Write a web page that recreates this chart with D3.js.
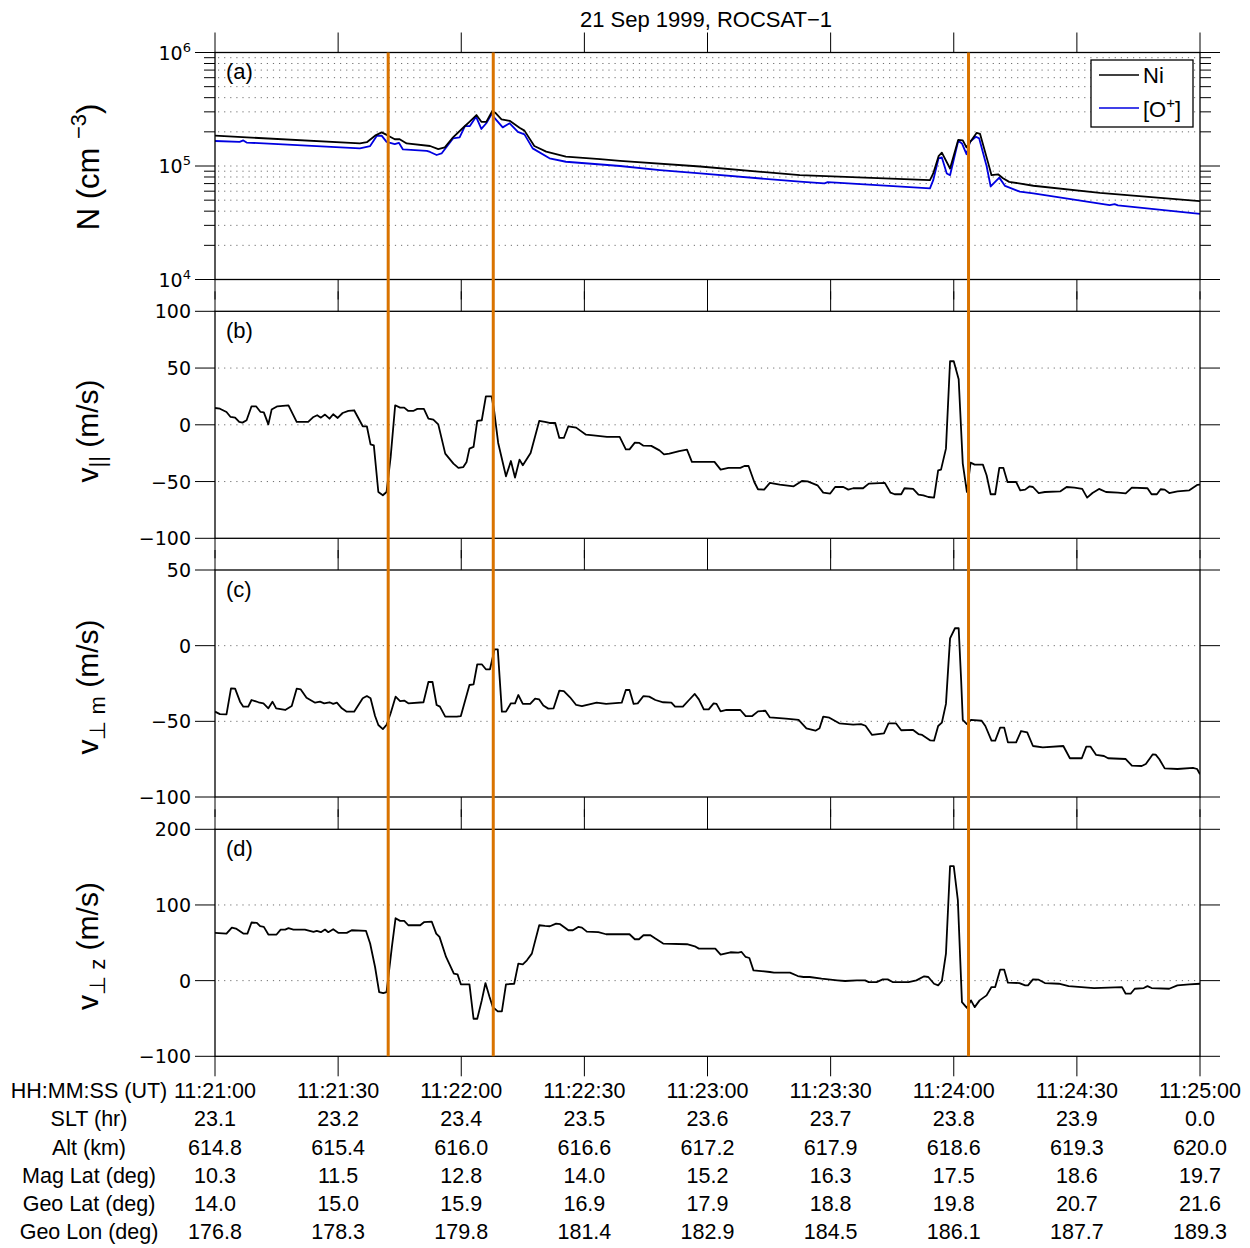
<!DOCTYPE html>
<html><head><meta charset="utf-8">
<script src="https://cdn.jsdelivr.net/npm/d3@7"></script>
<style>
body{margin:0;background:#fff}
svg{display:block}
text{font-family:"Liberation Sans",Arial,Helvetica,sans-serif;fill:#000}
.tick{font-family:"DejaVu Sans",sans-serif;font-size:19px}
</style>
</head><body><svg id="c" width="1250" height="1248"></svg>
<script>
// ---------------- DATA (time in seconds after 11:21:00 UT) ----------------
const title = "21 Sep 1999, ROCSAT\u22121";
const timeLabels = ["11:21:00","11:21:30","11:22:00","11:22:30","11:23:00","11:23:30","11:24:00","11:24:30","11:25:00"];
const tickSeconds = [0,30,60,90,120,150,180,210,240];
const rowLabels = ["HH:MM:SS (UT)","SLT (hr)","Alt (km)","Mag Lat (deg)","Geo Lat (deg)","Geo Lon (deg)"];
const sltLabels = ["23.1","23.2","23.4","23.5","23.6","23.7","23.8","23.9","0.0"];
const altLabels = ["614.8","615.4","616.0","616.6","617.2","617.9","618.6","619.3","620.0"];
const magLatLabels = ["10.3","11.5","12.8","14.0","15.2","16.3","17.5","18.6","19.7"];
const geoLatLabels = ["14.0","15.0","15.9","16.9","17.9","18.8","19.8","20.7","21.6"];
const geoLonLabels = ["176.8","178.3","179.8","181.4","182.9","184.5","186.1","187.7","189.3"];
const eventTimes = [42.2, 67.8, 183.6];

const tNi = [0,35.3,37,39,40.6,42.2,43.8,45,46.7,52.4,54.4,56,58,60.9,62,63.7,64.9,66.1,67.6,68.5,69.8,71.8,74.2,75.4,77.8,80.7,85.5,93.8,98.7,118.2,142.5,174.2,175,176.3,177.1,179.1,181.1,182.2,183.1,185.6,186.4,188.4,189.2,190.8,192,193.5,199.4,215.6,240];
const nNi = [1.85e5,1.58e5,1.62e5,1.85e5,1.98e5,1.85e5,1.72e5,1.72e5,1.58e5,1.5e5,1.41e5,1.46e5,1.79e5,2.25e5,2.45e5,2.81e5,2.45e5,2.45e5,3.07e5,2.9e5,2.58e5,2.5e5,2.17e5,2.05e5,1.5e5,1.34e5,1.21e5,1.15e5,1.11e5,9.9e4,8.3e4,7.5e4,8.6e4,1.22e5,1.31e5,9.5e4,1.70e5,1.68e5,1.46e5,1.96e5,1.92e5,1.06e5,8.3e4,8.45e4,7.8e4,7.25e4,6.7e4,5.8e4,4.9e4];

const tO = [0,6,6.9,7.7,35.3,37.8,39.4,40.6,41.8,43.8,44.8,45.8,51.6,52.4,54,55.2,58,59.6,60.9,62.1,63.6,64.9,66.1,67.4,68.2,70.1,71.8,73.8,75.4,77.4,81.5,85.5,98.7,108.4,118.2,142.5,148.5,149.3,174.2,175,176.3,177.1,178.3,179.1,181.1,182,183.1,184,185.4,186.2,188,189,191.1,192.5,196.1,199.4,218,219.2,220,240];
const nO = [1.66e5,1.63e5,1.68e5,1.61e5,1.43e5,1.50e5,1.84e5,1.85e5,1.63e5,1.56e5,1.6e5,1.40e5,1.36e5,1.33e5,1.25e5,1.29e5,1.75e5,1.79e5,2.25e5,2.25e5,2.72e5,2.12e5,2.38e5,2.87e5,2.63e5,2.19e5,2.38e5,2.0e5,1.9e5,1.43e5,1.17e5,1.09e5,1.0e5,9.2e4,8.6e4,7.27e4,7.03e4,7.2e4,6.35e4,7.5e4,1.17e5,1.19e5,8.6e4,8.3e4,1.67e5,1.58e5,1.27e5,1.64e5,1.81e5,1.75e5,1.0e5,6.6e4,7.9e4,6.67e4,5.94e4,5.74e4,4.53e4,4.62e4,4.5e4,3.78e4];

const vPar = [[0,14.8],[1.2,14.2],[2.8,11.3],[3.8,6.9],[4.9,6.3],[5.9,2.5],[6.7,1.9],[7.7,4.0],[8.9,16.3],[10,16.3],[11.1,11.3],[11.9,11.0],[13,0.4],[13.8,13.4],[15.2,16.3],[17.9,17.2],[19.9,2.5],[22.7,2.5],[24,6.9],[24.9,8.4],[25.8,6.3],[26.8,9.0],[27.9,5.4],[28.8,9.3],[29.9,6.0],[31.1,10.4],[32.5,12.2],[33.9,12.8],[36,-1.3],[37,-1.3],[37.9,-17.2],[38.7,-18.1],[39.8,-59.2],[40.9,-62.1],[41.8,-59.2],[42.8,-28.3],[43.9,17.2],[45.1,15.1],[46.1,15.1],[47.1,12.2],[48.3,12.2],[49.3,14.0],[50.9,14.0],[52,5.4],[53.2,4.5],[54.4,0.4],[56.1,-25.4],[58.1,-34.2],[59.3,-38.0],[60.5,-37.2],[61.3,-32.7],[62,-21.0],[63,-19.5],[63.9,3.4],[65,4.0],[66,25.1],[67.4,25.1],[68,12.8],[69,-16.0],[70.9,-45.4],[72.1,-31.9],[73.1,-46.5],[74.2,-30.7],[75,-35.7],[76.9,-24.8],[79,3.4],[80.4,2.5],[81.5,1.6],[82.9,1.6],[83.9,-11.6],[85,-11.6],[86.1,-1.3],[88,-2.5],[90.4,-8.7],[92.2,-9.3],[95.5,-10.7],[98.6,-10.7],[100.1,-21.6],[101,-21.6],[102.3,-15.7],[103.4,-16.0],[104.4,-18.4],[106.3,-18.6],[108.3,-22.5],[109.4,-26.0],[110.7,-25.4],[113.1,-23.1],[115,-21.9],[116.2,-32.7],[121.7,-32.7],[123.2,-39.5],[125.1,-38.0],[128,-38.0],[129,-36.3],[130,-36.3],[131.4,-50.4],[132.3,-56.8],[133.8,-57.1],[135.2,-51.2],[137.6,-52.7],[141,-54.2],[143,-49.5],[144.4,-49.8],[146.8,-53.3],[148.2,-59.8],[149.9,-60.6],[151.1,-54.8],[153.1,-54.8],[154.3,-57.1],[155.5,-55.9],[157.9,-55.9],[159.3,-51.8],[163.2,-51.2],[164.6,-59.8],[165.6,-61.2],[167.2,-61.2],[168,-55.9],[170.1,-56.5],[171.4,-61.5],[172.6,-62.1],[173.8,-63.6],[175.2,-64.2],[176.2,-40.1],[176.9,-39.5],[178.1,-21.0],[179.1,56.0],[180,56.0],[181.2,40.1],[182.2,-34.2],[183.2,-59.2],[184.1,-33.3],[185.1,-35.1],[187.1,-35.1],[188,-44.5],[189,-61.2],[190.1,-61.2],[191.1,-38.0],[192.1,-38.0],[193.1,-50.4],[195.2,-50.4],[196.2,-57.7],[197.4,-57.1],[198.5,-54.2],[199.3,-54.8],[200.7,-60.1],[202.2,-59.2],[206,-58.6],[207.5,-54.8],[209.4,-55.4],[211.3,-56.5],[212.5,-64.2],[213.8,-60.1],[215.4,-56.5],[217.1,-59.2],[220,-59.8],[221.9,-60.4],[223.4,-55.4],[227.2,-55.9],[228.2,-61.2],[229.5,-61.2],[230.4,-56.8],[231.4,-57.1],[232.5,-60.1],[234.5,-58.6],[237.4,-57.7],[239.3,-53.0],[240,-52.7]];

const vPerpM = [[0,-43.6],[1.2,-45.2],[2.8,-45.4],[3.9,-28.2],[4.9,-28.4],[6.1,-37.0],[6.9,-40.3],[8.1,-40.3],[8.9,-35.9],[10.6,-37.4],[11.8,-38.1],[13,-41.4],[14,-37.0],[14.9,-41.4],[17.1,-42.5],[18.7,-39.9],[19.9,-28.4],[20.9,-28.9],[22.3,-34.4],[24.4,-37.7],[25.6,-37.0],[26.6,-38.1],[27.9,-37.4],[28.8,-38.5],[29.7,-37.7],[30.9,-41.4],[32.1,-43.6],[33.9,-43.6],[36,-34.8],[37,-33.3],[37.9,-34.8],[39,-46.5],[39.8,-52.4],[40.9,-55.1],[41.8,-52.4],[42.8,-44.7],[44,-33.7],[45.1,-36.6],[46.1,-36.3],[47.1,-38.1],[50.8,-37.4],[52,-24.0],[53,-24.0],[54,-39.2],[54.8,-40.3],[56.1,-46.9],[58.9,-46.9],[59.9,-46.5],[62,-26.0],[63,-25.6],[63.9,-12.3],[65,-12.3],[66,-15.6],[67,-15.6],[67.7,-7.3],[68.1,-2.4],[68.9,-2.4],[69.9,-43.6],[70.9,-43.6],[72.1,-38.1],[73.1,-38.1],[73.9,-32.6],[75,-38.5],[76.8,-38.5],[78,-35.0],[79,-35.5],[80,-39.6],[81.2,-41.6],[82.5,-41.4],[83.9,-29.7],[85,-30.0],[86.5,-34.1],[88,-39.2],[89.4,-39.9],[93,-37.7],[95.3,-38.5],[99.1,-37.7],[100.1,-29.3],[101,-29.3],[102,-38.5],[103,-38.1],[104.4,-33.3],[105.8,-33.7],[107.3,-35.9],[109.2,-37.4],[111.2,-37.7],[112.1,-40.3],[114,-40.3],[115.5,-35.9],[116.9,-31.9],[117.9,-35.5],[119.1,-42.1],[120.3,-42.1],[121.5,-38.1],[122.2,-38.5],[123.2,-43.4],[124.6,-42.5],[128,-42.5],[129.3,-46.5],[130.9,-46.5],[132.3,-43.4],[134.1,-43.0],[135.2,-47.4],[139.1,-48.2],[141,-48.7],[142.2,-49.1],[144.1,-54.6],[146.3,-56.2],[147.3,-54.6],[148.2,-46.9],[149.7,-47.6],[152.1,-51.3],[155.5,-52.2],[157.4,-51.8],[158.5,-52.9],[160.1,-59.0],[163,-57.9],[164.1,-51.3],[165.9,-51.3],[167.2,-55.9],[170.1,-55.7],[171.4,-58.4],[172.3,-59.0],[174.3,-62.6],[175.2,-62.8],[176.2,-53.1],[177.1,-50.9],[178.1,-38.5],[179.1,4.8],[180.3,11.5],[181.2,11.5],[181.8,-22.7],[182.2,-49.1],[183.2,-51.8],[184.2,-49.1],[186.8,-49.6],[187.7,-53.1],[189.2,-62.8],[190.1,-62.8],[191.3,-54.2],[192.3,-54.2],[193.2,-63.9],[195.2,-63.9],[196.4,-56.4],[197.9,-57.3],[199.3,-66.3],[201.7,-67.2],[206.7,-66.3],[208.3,-74.4],[211.2,-74.4],[212.3,-66.7],[213.3,-66.7],[214.7,-72.2],[216.6,-72.9],[217.6,-74.4],[221.9,-74.9],[223.4,-79.3],[225.8,-79.5],[226.8,-78.2],[228.5,-71.8],[229.2,-72.0],[230.1,-75.1],[231.4,-81.1],[234.5,-81.5],[238.3,-80.8],[239.3,-81.5],[240,-85.0]];

const vPerpZ = [[0,63.1],[2.8,62.2],[4.1,70.1],[5.1,68.8],[6.9,62.2],[7.9,62.2],[8.9,76.8],[10.2,76.3],[11,71.9],[11.9,71.0],[13,60.9],[15,60.9],[16,67.5],[17.1,67.5],[17.9,69.3],[19.1,67.5],[21.9,67.5],[24,64.4],[24.8,65.7],[25.8,64.0],[26.8,67.5],[27.6,64.0],[28.8,67.9],[30.1,63.1],[32.1,63.1],[33.3,66.6],[36.8,65.7],[37.8,49.0],[39,18.0],[40,-15.1],[41,-16.4],[41.8,-15.1],[43.1,44.5],[44,82.5],[45.1,79.0],[46.1,79.0],[47.1,73.2],[50,73.2],[50.9,77.2],[52.8,78.1],[53.9,62.2],[54.7,57.8],[56.3,31.3],[58.2,9.2],[59.1,8.3],[59.9,-4.9],[62,-4.9],[63,-50.4],[63.9,-50.4],[65,-26.1],[65.9,-3.2],[66.9,-21.7],[67.7,-35.0],[68.9,-40.7],[69.9,-40.7],[70.9,-4.9],[72.9,-4.1],[73.9,22.4],[75,21.6],[76,26.9],[77.2,35.7],[79,73.2],[80.4,72.3],[81.6,71.9],[83.1,75.4],[84.1,74.6],[86.1,66.6],[87.2,66.6],[88.5,71.0],[89.4,70.1],[90.6,64.8],[93.4,64.0],[95.3,61.3],[101,61.3],[102.3,54.7],[103.3,54.7],[104.4,60.0],[106.1,60.0],[107.3,55.6],[109.2,49.0],[115,48.1],[116.9,45.4],[117.9,42.3],[121.9,42.3],[123.2,34.4],[125.6,37.5],[127.5,37.0],[128.3,37.9],[129.3,31.3],[130.2,29.9],[131.2,13.6],[135.2,11.4],[136.2,10.5],[140.1,10.5],[142,6.1],[143.4,4.8],[144.9,4.8],[147.8,2.6],[151.6,0.4],[153.5,-0.5],[156.4,0.4],[158.4,0.4],[159.3,-1.9],[161.2,-1.9],[162.7,1.7],[163.9,1.7],[165.1,-1.9],[169,-1.9],[170.9,0.4],[172.8,5.7],[173.8,4.8],[175.2,-4.1],[176.2,-6.3],[177.1,-0.5],[178.1,35.7],[179.1,151.4],[180,151.4],[181,106.4],[182,-28.4],[183.2,-35.9],[184.2,-26.1],[185.1,-35.0],[186.3,-26.1],[188,-19.5],[189.2,-8.5],[190.1,-8.5],[191.3,14.5],[192.3,14.5],[193.2,-2.7],[196,-3.2],[197.4,-6.3],[198.1,-6.3],[199.3,1.7],[200.7,1.2],[202.2,-3.2],[205.6,-4.1],[208,-7.2],[214.2,-9.8],[221,-8.5],[221.9,-17.3],[223.1,-17.3],[224.1,-10.7],[226.3,-9.8],[227.2,-7.2],[228.2,-9.8],[232.5,-10.7],[234.5,-6.3],[237.4,-4.9],[240,-4.1]];

const bTicks = [-100,-50,0,50,100];
const cTicks = [-100,-50,0,50];
const dTicks = [-100,0,100,200];

// ---------------- DRAWING ----------------
const svg = d3.select("#c");
const L = 215, R = 1200;
const x = d3.scaleLinear().domain([0,240]).range([L,R]);
const ORANGE = "rgb(217,115,0)";
const MAJ = 20, MIN = 11;

const panels = [
  {id:"a", top:52.5, bottom:279.5, y:d3.scaleLog().domain([1e4,1e6])},
  {id:"b", top:311.3, bottom:538.3, y:d3.scaleLinear().domain([-100,100]), ticks:bTicks, series:[vPar]},
  {id:"c", top:570, bottom:797, y:d3.scaleLinear().domain([-100,50]), ticks:cTicks, series:[vPerpM]},
  {id:"d", top:829.3, bottom:1056.3, y:d3.scaleLinear().domain([-100,200]), ticks:dTicks, series:[vPerpZ]}
];
panels.forEach(p => p.y.range([p.bottom, p.top]));

const defs = svg.append("defs");

panels.forEach(p => {
  const g = svg.append("g");
  defs.append("clipPath").attr("id","clip"+p.id).append("rect")
    .attr("x",L).attr("y",p.top).attr("width",R-L).attr("height",p.bottom-p.top);

  let gridVals, majors, minors = [];
  if (p.id === "a") {
    majors = [1e4,1e5,1e6];
    [1e4,1e5].forEach(d => { for (let k=2;k<=9;k++) minors.push(k*d); });
    gridVals = minors.concat([1e5]);
  } else {
    majors = p.ticks;
    gridVals = p.ticks.filter(v => v !== p.y.domain()[0] && v !== p.y.domain()[1]);
  }
  g.selectAll(".grid").data(gridVals).join("line")
    .attr("x1",L+3).attr("x2",R-3)
    .attr("y1",d=>p.y(d)).attr("y2",d=>p.y(d))
    .attr("stroke","#6f6f6f").attr("stroke-width",1).attr("stroke-dasharray","1.2,4.9");

  const tickG = g.append("g").attr("stroke","#000").attr("stroke-width",1);
  majors.forEach(v => {
    tickG.append("line").attr("x1",L-MAJ).attr("x2",L).attr("y1",p.y(v)).attr("y2",p.y(v));
    tickG.append("line").attr("x1",R).attr("x2",R+MAJ).attr("y1",p.y(v)).attr("y2",p.y(v));
  });
  minors.forEach(v => {
    tickG.append("line").attr("x1",L-MIN).attr("x2",L).attr("y1",p.y(v)).attr("y2",p.y(v));
    tickG.append("line").attr("x1",R).attr("x2",R+MIN).attr("y1",p.y(v)).attr("y2",p.y(v));
  });
  tickSeconds.forEach(s => {
    tickG.append("line").attr("x1",x(s)).attr("x2",x(s)).attr("y1",p.top-MAJ).attr("y2",p.top);
    tickG.append("line").attr("x1",x(s)).attr("x2",x(s)).attr("y1",p.bottom).attr("y2",p.bottom+MAJ);
  });

  // y tick labels
  if (p.id === "a") {
    majors.forEach(v => {
      const t = g.append("text").attr("class","tick").attr("text-anchor","end")
        .attr("x",191).attr("y",p.y(v)+7);
      t.append("tspan").text("10");
      t.append("tspan").attr("dy",-8).attr("font-size",13).text(Math.round(Math.log10(v)));
    });
  } else {
    majors.forEach(v => {
      g.append("text").attr("class","tick").attr("text-anchor","end")
        .attr("x",191).attr("y",p.y(v)+7).text(v < 0 ? "\u2212" + Math.abs(v) : String(v));
    });
  }

  // data
  const dg = g.append("g").attr("clip-path","url(#clip"+p.id+")");
  const line = d3.line().x(d=>x(d[0])).y(d=>p.y(d[1]));
  if (p.id === "a") {
    dg.append("path").datum(tO.map((t,i)=>[t,nO[i]])).attr("d",line)
      .attr("fill","none").attr("stroke","#0000e0").attr("stroke-width",1.8).attr("stroke-linejoin","round");
    dg.append("path").datum(tNi.map((t,i)=>[t,nNi[i]])).attr("d",line)
      .attr("fill","none").attr("stroke","#000").attr("stroke-width",1.8).attr("stroke-linejoin","round");
  } else {
    p.series.forEach(s => dg.append("path").datum(s).attr("d",line)
      .attr("fill","none").attr("stroke","#000").attr("stroke-width",1.8).attr("stroke-linejoin","round"));
  }

  g.append("rect").attr("x",L).attr("y",p.top).attr("width",R-L).attr("height",p.bottom-p.top)
    .attr("fill","none").attr("stroke","#000").attr("stroke-width",1.3);

  g.append("text").attr("x",226).attr("y",p.top+26.5).attr("font-size",22).text("("+p.id+")");
});

// y axis labels
function ylabel(cx, cy, size, build) {
  const t = svg.append("text").attr("text-anchor","middle").attr("font-size",size)
    .attr("transform",`translate(${cx},${cy}) rotate(-90)`);
  build(t);
}
ylabel(99, 167, 31, t => {
  t.append("tspan").text("N (cm ");
  t.append("tspan").attr("font-size",22).attr("dy",-13).text("\u22123");
  t.append("tspan").attr("dy",13).text(")");
});
ylabel(98, 431, 30, t => {
  t.append("tspan").text("v");
  t.append("tspan").attr("font-size",22).attr("dy",7).text("||");
  t.append("tspan").attr("dy",-7).text(" (m/s)");
});
ylabel(98, 687, 30, t => {
  t.append("tspan").text("v");
  t.append("tspan").attr("font-size",22).attr("dy",7).text("\u22a5 m");
  t.append("tspan").attr("dy",-7).text(" (m/s)");
});
ylabel(98, 946, 30, t => {
  t.append("tspan").text("v");
  t.append("tspan").attr("font-size",22).attr("dy",7).text("\u22a5 z");
  t.append("tspan").attr("dy",-7).text(" (m/s)");
});

// event lines
svg.append("g").selectAll("line").data(eventTimes).join("line")
  .attr("x1",d=>x(d)).attr("x2",d=>x(d))
  .attr("y1",panels[0].top).attr("y2",panels[3].bottom)
  .attr("stroke",ORANGE).attr("stroke-width",3);

// legend
const lg = svg.append("g");
lg.append("rect").attr("x",1091).attr("y",60).attr("width",102).attr("height",67)
  .attr("fill","#fff").attr("stroke","#000").attr("stroke-width",1.3);
lg.append("line").attr("x1",1099).attr("x2",1139).attr("y1",75).attr("y2",75).attr("stroke","#000").attr("stroke-width",1.5);
lg.append("text").attr("x",1143).attr("y",83).attr("font-size",22).text("Ni");
lg.append("line").attr("x1",1099).attr("x2",1139).attr("y1",108).attr("y2",108).attr("stroke","#0000e0").attr("stroke-width",1.5);
const ot = lg.append("text").attr("x",1143).attr("y",117).attr("font-size",22);
ot.append("tspan").text("[O");
ot.append("tspan").attr("font-size",15).attr("dy",-9).text("+");
ot.append("tspan").attr("dy",9).text("]");

// title
svg.append("text").attr("x",706).attr("y",27).attr("text-anchor","middle").attr("font-size",22).text(title);

// bottom table
const rows = [timeLabels, sltLabels, altLabels, magLatLabels, geoLatLabels, geoLonLabels];
const rowY = [1097.5, 1126, 1154.5, 1182.5, 1210.5, 1239];
rows.forEach((vals, r) => {
  svg.append("text").attr("x",89).attr("y",rowY[r]).attr("text-anchor","middle").attr("font-size",21.5).text(rowLabels[r]);
  vals.forEach((v,i) => {
    svg.append("text").attr("x",x(tickSeconds[i])).attr("y",rowY[r]).attr("text-anchor","middle").attr("font-size",21.5).text(v);
  });
});
</script>
</body></html>
